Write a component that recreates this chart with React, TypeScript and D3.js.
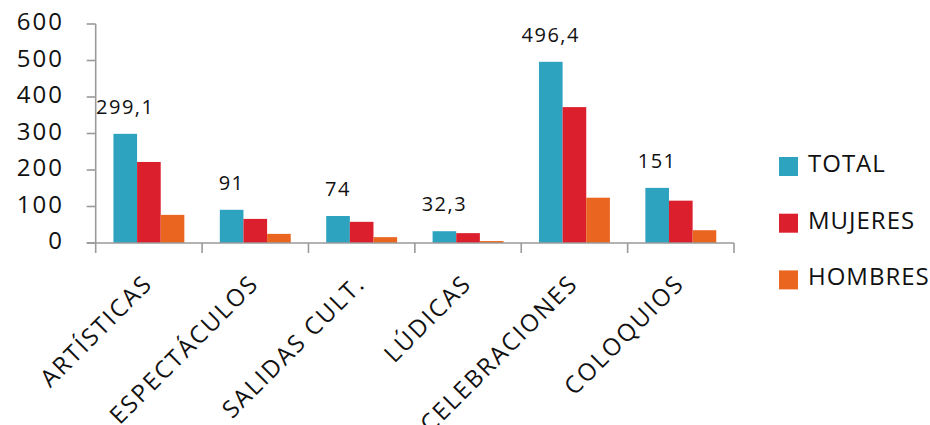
import React from "react";
import * as d3 from "d3";

const categories = ["ARTÍSTICAS", "ESPECTÁCULOS", "SALIDAS CULT.", "LÚDICAS", "CELEBRACIONES", "COLOQUIOS"];
const seriesNames = ["TOTAL", "MUJERES", "HOMBRES"];
const totalValues = [299.1, 91, 74, 32.3, 496.4, 151];
const mujeresValues = [222, 66, 58, 27, 372.3, 116];
const hombresValues = [77.1, 25, 16, 5.3, 124.1, 35];
const totalLabels = ["299,1", "91", "74", "32,3", "496,4", "151"];
const yTicks = [0, 100, 200, 300, 400, 500, 600];
const colors = ["#2ea3c0", "#dc1f2c", "#ea651f"];

const W = 930;
const H = 425;
const FONT = "'Open Sans', 'Noto Sans', sans-serif";

export default function App() {
  const seriesValues = [totalValues, mujeresValues, hombresValues];
  const x = d3.scaleBand<string>().domain(categories).range([95.7, 734]).padding(0);
  const xs = d3
    .scaleBand<string>()
    .domain(seriesNames)
    .range([0, x.bandwidth()])
    .paddingInner(0)
    .paddingOuter(0.75);
  const y = d3.scaleLinear().domain([0, 600]).range([243, 24]);
  const axisColor = "#9a9a9a";
  const x0 = x.range()[0];
  const x1 = x.range()[1];

  return (
    <div style={{ position: "absolute", left: 0, top: 0 }}>
      <svg width={W} height={H} style={{ display: "block", background: "#fff" }}>
        {/* bars */}
        {categories.map((c, i) => (
          <g key={c} transform={`translate(${x(c)},0)`}>
            {seriesNames.map((s, j) => {
              const v = seriesValues[j][i];
              return (
                <rect
                  key={s}
                  x={xs(s)}
                  y={y(v)}
                  width={xs.bandwidth()}
                  height={y(0) - y(v)}
                  fill={colors[j]}
                />
              );
            })}
          </g>
        ))}
        {/* y axis */}
        <line x1={x0} x2={x0} y1={y(600)} y2={y(0)} stroke={axisColor} strokeWidth={1.6} />
        {yTicks.map((t) => (
          <g key={t}>
            <line x1={x0 - 9} x2={x0} y1={y(t)} y2={y(t)} stroke={axisColor} strokeWidth={1.6} />
            <text
              x={64}
              y={y(t) + 6}
              textAnchor="end"
              fontFamily={FONT}
              fontSize={24}
              letterSpacing={2}
              fill="#111"
            >
              {t}
            </text>
          </g>
        ))}
        {/* x axis */}
        <line x1={x0 - 9} x2={x1} y1={y(0)} y2={y(0)} stroke={axisColor} strokeWidth={1.6} />
        {[...categories.map((c) => x(c) as number), x1].map((px, i) => (
          <line key={i} x1={px} x2={px} y1={y(0)} y2={y(0) + 10} stroke={axisColor} strokeWidth={1.6} />
        ))}
        {/* category labels */}
        {categories.map((c) => {
          const cx = (x(c) as number) + x.bandwidth() / 2 + 5;
          return (
            <text
              key={c}
              transform={`translate(${cx},285) rotate(-45)`}
              textAnchor="end"
              fontFamily={FONT}
              fontSize={24}
              letterSpacing={2}
              fill="#111"
            >
              {c}
            </text>
          );
        })}
        {/* data labels for TOTAL */}
        {categories.map((c, i) => {
          const cx = (x(c) as number) + (xs("TOTAL") as number) + xs.bandwidth() / 2;
          return (
            <text
              key={c}
              x={cx}
              y={y(totalValues[i]) - 20}
              textAnchor="middle"
              fontFamily={FONT}
              fontSize={20}
              letterSpacing={1.5}
              fill="#111"
            >
              {totalLabels[i]}
            </text>
          );
        })}
        {/* legend */}
        {seriesNames.map((s, j) => (
          <g key={s} transform={`translate(779,${157 + j * 56.7})`}>
            <rect x={0} y={0} width={19} height={19} fill={colors[j]} />
            <text x={29} y={15} fontFamily={FONT} fontSize={24} letterSpacing={1} fill="#111">
              {s}
            </text>
          </g>
        ))}
      </svg>
    </div>
  );
}
